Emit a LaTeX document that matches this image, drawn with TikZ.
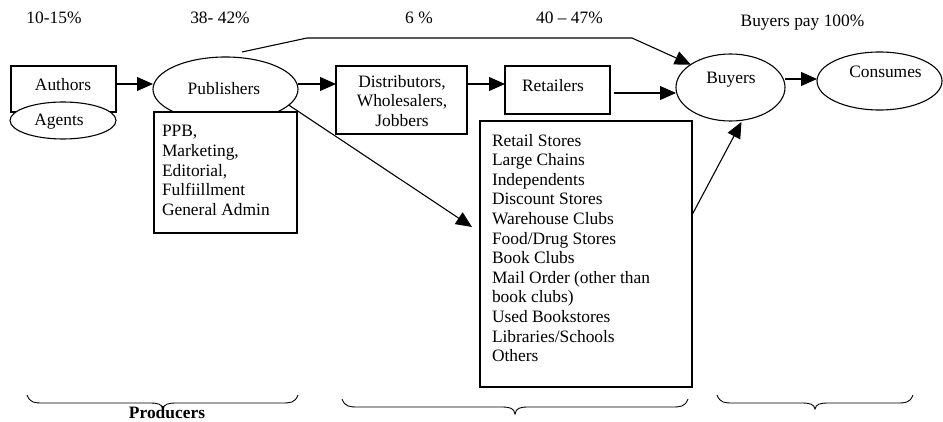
\documentclass[tikz,border=0pt]{standalone}
\usepackage{fontspec}
\setmainfont{Liberation Serif}
\usetikzlibrary{arrows.meta,shapes.geometric,calc}
\newcommand\bracedraw[6]{%
  \draw[braceline] (#1,#4) .. controls (#1+3,#5) and (#1+8,#5) .. (#1+16,#5)
    -- (#3-14,#5) .. controls (#3-5,#5) and (#3-1,#5+1) .. (#3,#6)
    .. controls (#3+1,#5+1) and (#3+5,#5) .. (#3+14,#5)
    -- (#2-16,#5) .. controls (#2-8,#5) and (#2-3,#5) .. (#2,#4);}
\tikzset{
  every node/.style={font=\fontsize{17.4}{19.6}\selectfont, inner sep=0pt, outer sep=0pt},
  boxshape/.style={draw, rectangle, line width=1.1pt, fill=white},
  ellshape/.style={draw, ellipse, line width=1.1pt, fill=white},
  lbl/.style={anchor=base},
  listtext/.style={anchor=north west, align=left},
  arr/.style={line width=1.1pt, -{Triangle[length=16pt,width=14pt]}},
  braceline/.style={line width=0.9pt},
}
\begin{document}
\begin{tikzpicture}[x=1pt,y=-1pt]
\useasboundingbox (0,0) rectangle (943,422);

% top percentages
\node[lbl] (pct1) at (54,24) {10-15\%};
\node[lbl] (pct2) at (220,24) {38- 42\%};
\node[lbl] (pct3) at (419,23.5) {6 \%};
\node[lbl] (pct4) at (569.5,24) {40 – 47\%};
\node[lbl] (pay) at (802.5,26.5) {Buyers pay 100\%};

% authors and agents
\node[boxshape, minimum width=105pt, minimum height=46pt] (authors) at (63.5,89) {};
\node[lbl] (authorslbl) at (63,90.7) {Authors};
\node[ellshape, minimum width=106pt, minimum height=37pt] (agents) at (63,120.5) {};
\node[lbl] (agentslbl) at (59,126) {Agents};

% publishers
\node[ellshape, minimum width=145pt, minimum height=64.6pt] (pub) at (225.5,89.3) {};
\node[lbl] (publbl) at (224,95) {Publishers};
\node[boxshape, minimum width=143pt, minimum height=121pt] (ppb) at (225.5,172.5) {};
\node[listtext] (ppblbl) at (162,125.5) {PPB,\\Marketing,\\Editorial,\\Fulfiillment\\General Admin};

% distributors
\node[boxshape, minimum width=131pt, minimum height=68pt] (dist) at (401.5,100) {};
\node[anchor=north, align=center] (distlbl) at (402,75.1) {Distributors,\\Wholesalers,\\Jobbers};

% retailers
\node[boxshape, minimum width=105pt, minimum height=48pt] (ret) at (557.5,90) {};
\node[lbl] (retlbl) at (553,92) {Retailers};

% retail list
\node[boxshape, minimum width=212pt, minimum height=266pt] (retail) at (586,254) {};
\node[listtext] (retaillbl) at (492,134.1) {Retail Stores\\Large Chains\\Independents\\Discount Stores\\Warehouse Clubs\\Food/Drug Stores\\Book Clubs\\Mail Order (other than\\book clubs)\\Used Bookstores\\Libraries/Schools\\Others};

% buyers and consumes
\node[ellshape, minimum width=109pt, minimum height=67pt] (buyers) at (730.5,87.5) {};
\node[lbl] (buyerslbl) at (731,84) {Buyers};
\node[ellshape, minimum width=125pt, minimum height=58pt] (cons) at (879.5,81) {};
\node[lbl] (conslbl) at (885.5,78) {Consumes};

% connectors
\draw[arr] (authors.east |- 0,84) -- (pub.west |- 0,84);
\draw[arr] (pub.east |- 0,84) -- (dist.west |- 0,84);
\draw[arr] (dist.east |- 0,84) -- (ret.west |- 0,84);
\draw[arr, shorten <=4pt] (ret.east |- 0,93) -- (buyers.west |- 0,93);
\draw[arr] (buyers.east |- 0,79) -- (cons.west |- 0,79);

\coordinate (b0) at (242,52);
\coordinate (b1) at (307,38);
\coordinate (b2) at (632,38);
\draw[arr] (b0) -- (b1) -- (b2) -- (buyers.150);

\draw[arr] (pub.-14) -- ($(retail.west |- 0,227)+(-8,0)$);
\draw[arr, shorten >=2pt] (retail.east |- 0,215) -- (buyers.-70);

% braces
\bracedraw{27}{298}{163}{395}{403}{409}
\bracedraw{342}{688}{515}{399}{407}{414}
\bracedraw{717}{913}{815}{395}{403}{409}
\node[lbl, font=\fontsize{17.4}{19.6}\selectfont\bfseries] (producers) at (167,418.5) {Producers};
\end{tikzpicture}
\end{document}
